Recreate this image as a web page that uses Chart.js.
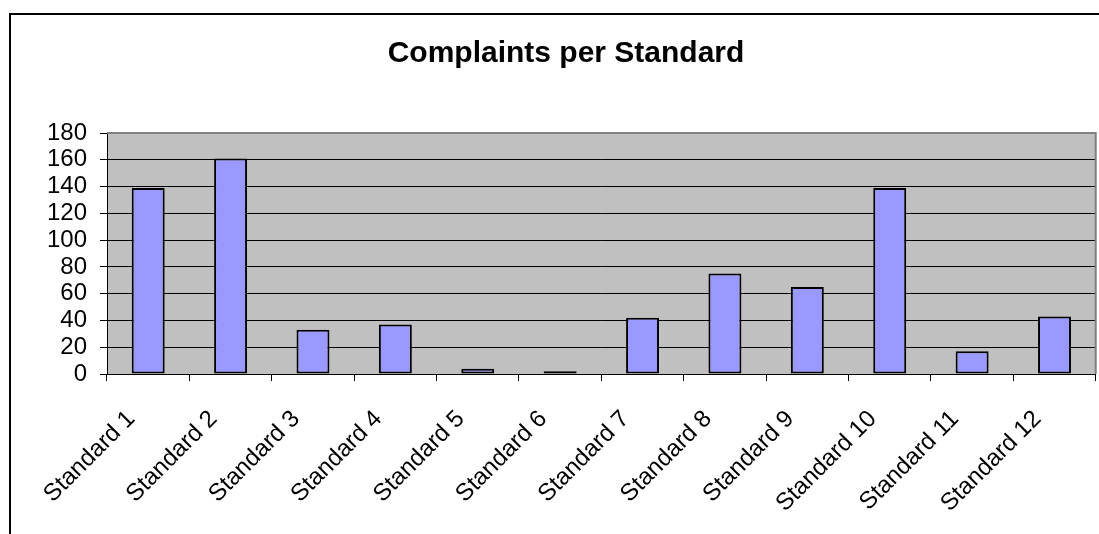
<!DOCTYPE html>
<html>
<head>
<meta charset="utf-8">
<script src="https://cdn.jsdelivr.net/npm/chart.js@4/dist/chart.umd.min.js"></script>
<style>
  html, body { margin: 0; padding: 0; background: #fff; }
  #wrap { width: 1099px; height: 534px; position: relative; }
</style>
</head>
<body>
<div id="wrap"><canvas id="bar-chart" width="1099" height="534"></canvas></div>
<script>
// chart data
const categories = ["Standard 1", "Standard 2", "Standard 3", "Standard 4", "Standard 5", "Standard 6",
                    "Standard 7", "Standard 8", "Standard 9", "Standard 10", "Standard 11", "Standard 12"];
const complaints = [139, 161, 33, 37, 4, 2, 42, 75, 65, 139, 17, 43];
const yTicks = [0, 20, 40, 60, 80, 100, 120, 140, 160, 180];

const FONT = "Arial, 'Liberation Sans', sans-serif";
const PAD_LEFT = 36;

// grey plot area + outer frame, drawn under everything
const excelLook = {
  id: 'excelLook',
  beforeDraw(chart) {
    const { ctx, chartArea: a } = chart;
    ctx.save();
    ctx.fillStyle = '#fff';
    ctx.fillRect(0, 0, chart.width, chart.height);
    ctx.fillStyle = '#c0c0c0';
    ctx.fillRect(a.left, a.top, a.right - a.left, a.bottom - a.top);
    ctx.strokeStyle = '#000';
    ctx.lineWidth = 2;
    ctx.strokeRect(10, 14, 1200, 700);
    ctx.restore();
  },
  afterDatasetsDraw(chart) {
    const { ctx, chartArea: a } = chart;
    ctx.save();
    ctx.strokeStyle = '#808080';
    ctx.lineWidth = 2;
    ctx.beginPath();
    ctx.moveTo(a.left, a.top);
    ctx.lineTo(a.right, a.top);
    ctx.lineTo(a.right, a.bottom);
    ctx.stroke();
    ctx.restore();
  }
};

new Chart(document.getElementById("bar-chart"), {
  type: 'bar',
  data: {
    labels: categories,
    datasets: [{
      label: "Complaints",
      data: complaints,
      backgroundColor: "#9999ff",
      borderColor: "#000",
      borderWidth: 2,
      borderSkipped: false,
      barPercentage: 0.4,
      categoryPercentage: 1.0
    }]
  },
  options: {
    responsive: false,
    animation: false,
    layout: { padding: { left: PAD_LEFT, right: 3, top: 0, bottom: 0 } },
    plugins: {
      legend: { display: false },
      tooltip: { enabled: false },
      title: {
        display: true,
        text: 'Complaints per Standard',
        color: '#000',
        font: { family: FONT, size: 30, weight: 'bold' },
        padding: { top: 36, bottom: 61 }
      }
    },
    scales: {
      x: {
        afterFit(scale) { scale.height = 160; },
        grid: { display: true, drawOnChartArea: false, drawTicks: true, tickLength: 7, color: '#000', offset: true },
        border: { color: '#000', width: 1 },
        ticks: {
          color: '#000',
          font: { family: FONT, size: 24 },
          minRotation: 45,
          maxRotation: 45,
          autoSkip: false,
          labelOffset: -17,
          padding: 24
        }
      },
      y: {
        min: 0,
        max: 180,
        afterFit(scale) { scale.width = 107 - PAD_LEFT; },
        afterBuildTicks(scale) { scale.ticks = yTicks.map(v => ({ value: v })); },
        grid: { color: '#000', lineWidth: 1, drawTicks: true, tickLength: 7 },
        border: { color: '#000', width: 1 },
        ticks: {
          color: '#000',
          font: { family: FONT, size: 24 },
          autoSkip: false,
          padding: 13
        }
      }
    }
  },
  plugins: [excelLook]
});
</script>
</body>
</html>
